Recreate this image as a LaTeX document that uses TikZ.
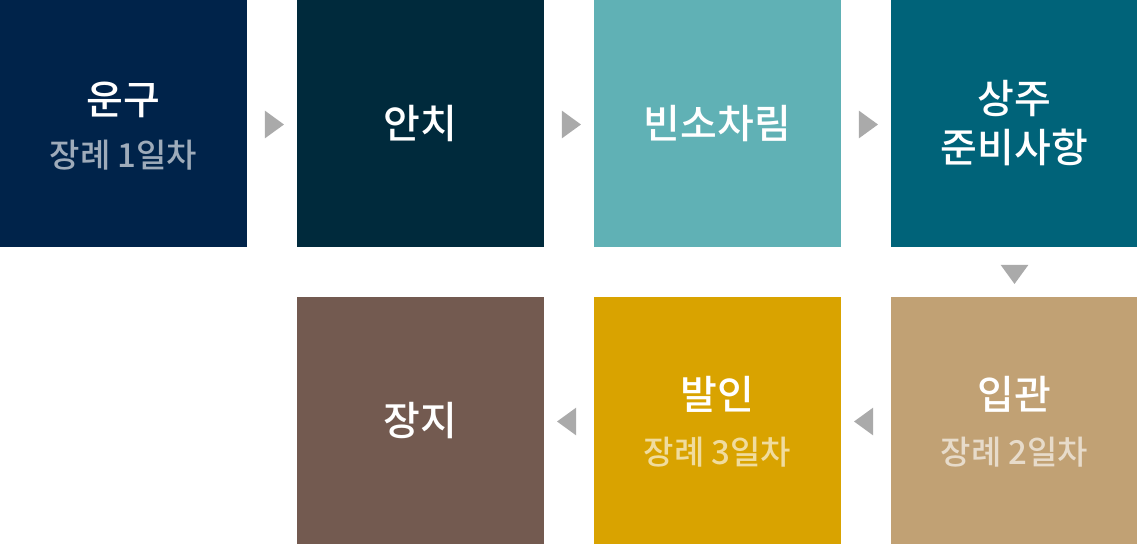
\documentclass[tikz,border=0pt]{standalone}
\usepackage{fontspec}
\setmainfont{Noto Sans CJK KR}[BoldFont={* Medium}]
\usetikzlibrary{positioning}
\usetikzlibrary{calc}
\usetikzlibrary{shapes.geometric}

\definecolor{navy}{HTML}{00234A}
\definecolor{deepteal}{HTML}{002A3C}
\definecolor{mint}{HTML}{60B1B5}
\definecolor{petrol}{HTML}{006379}
\definecolor{umber}{HTML}{735A50}
\definecolor{mustard}{HTML}{D9A300}
\definecolor{sand}{HTML}{C1A174}
\definecolor{pointer}{HTML}{AAAAAA}

\tikzset{
	stage/.style={minimum width=247pt, minimum height=247pt, inner sep=0pt, outer sep=0pt,
		text=white, align=center, font=\fontsize{40pt}{49pt}\selectfont\bfseries},
	title/.style={text=white, font=\fontsize{40pt}{49pt}\selectfont\bfseries},
	day/.style={font=\fontsize{33pt}{38pt}\selectfont\bfseries, text=white, text opacity=0.62},
	pointer/.style={isosceles triangle, isosceles triangle apex angle=72, fill=pointer,
		inner sep=0pt, minimum height=19pt, minimum width=26pt}
}

\begin{document}
\begin{tikzpicture}[x=1pt,y=1pt]
		\useasboundingbox (0,0) rectangle (1137,-544);
		% first row
		\node[stage, fill=navy, anchor=north west] (ungu) at (0,0) {};
		\node[stage, fill=deepteal, right=50pt of ungu] (anchi) {안치};
		\node[stage, fill=mint, right=50pt of anchi] (binso) {빈소차림};
		\node[stage, fill=petrol, right=50pt of binso] (sangju) {상주\\준비사항};
		% second row
		\node[stage, fill=sand, below=50pt of sangju] (ipgwan) {};
		\node[stage, fill=mustard, left=50pt of ipgwan] (barin) {};
		\node[stage, fill=umber, left=50pt of barin] (jangji) {장지};
		% two-line labels
		\node[title] at ([yshift=24pt]ungu.center) {운구};
		\node[day] at ([yshift=-32pt]ungu.center) {장례 1일차};
		\node[title] at ([yshift=26pt]barin.center) {발인};
		\node[day] at ([yshift=-32pt]barin.center) {장례 3일차};
		\node[title] at ([yshift=26pt]ipgwan.center) {입관};
		\node[day] at ([yshift=-32pt]ipgwan.center) {장례 2일차};
		% pointers
		\node[pointer] (p1) at ([yshift=-1pt]$(ungu.east)!0.5!(anchi.west)$) {};
		\node[pointer] (p2) at ([yshift=-1pt]$(anchi.east)!0.5!(binso.west)$) {};
		\node[pointer] (p3) at ([yshift=-1pt]$(binso.east)!0.5!(sangju.west)$) {};
		\node[pointer, rotate=-90] (p4) at ($(sangju.south)!0.5!(ipgwan.north)$) {};
		\node[pointer, rotate=180] (p5) at ([yshift=-1pt]$(ipgwan.west)!0.5!(barin.east)$) {};
		\node[pointer, rotate=180] (p6) at ([yshift=-1pt]$(barin.west)!0.5!(jangji.east)$) {};
	\end{tikzpicture}
\end{document}
